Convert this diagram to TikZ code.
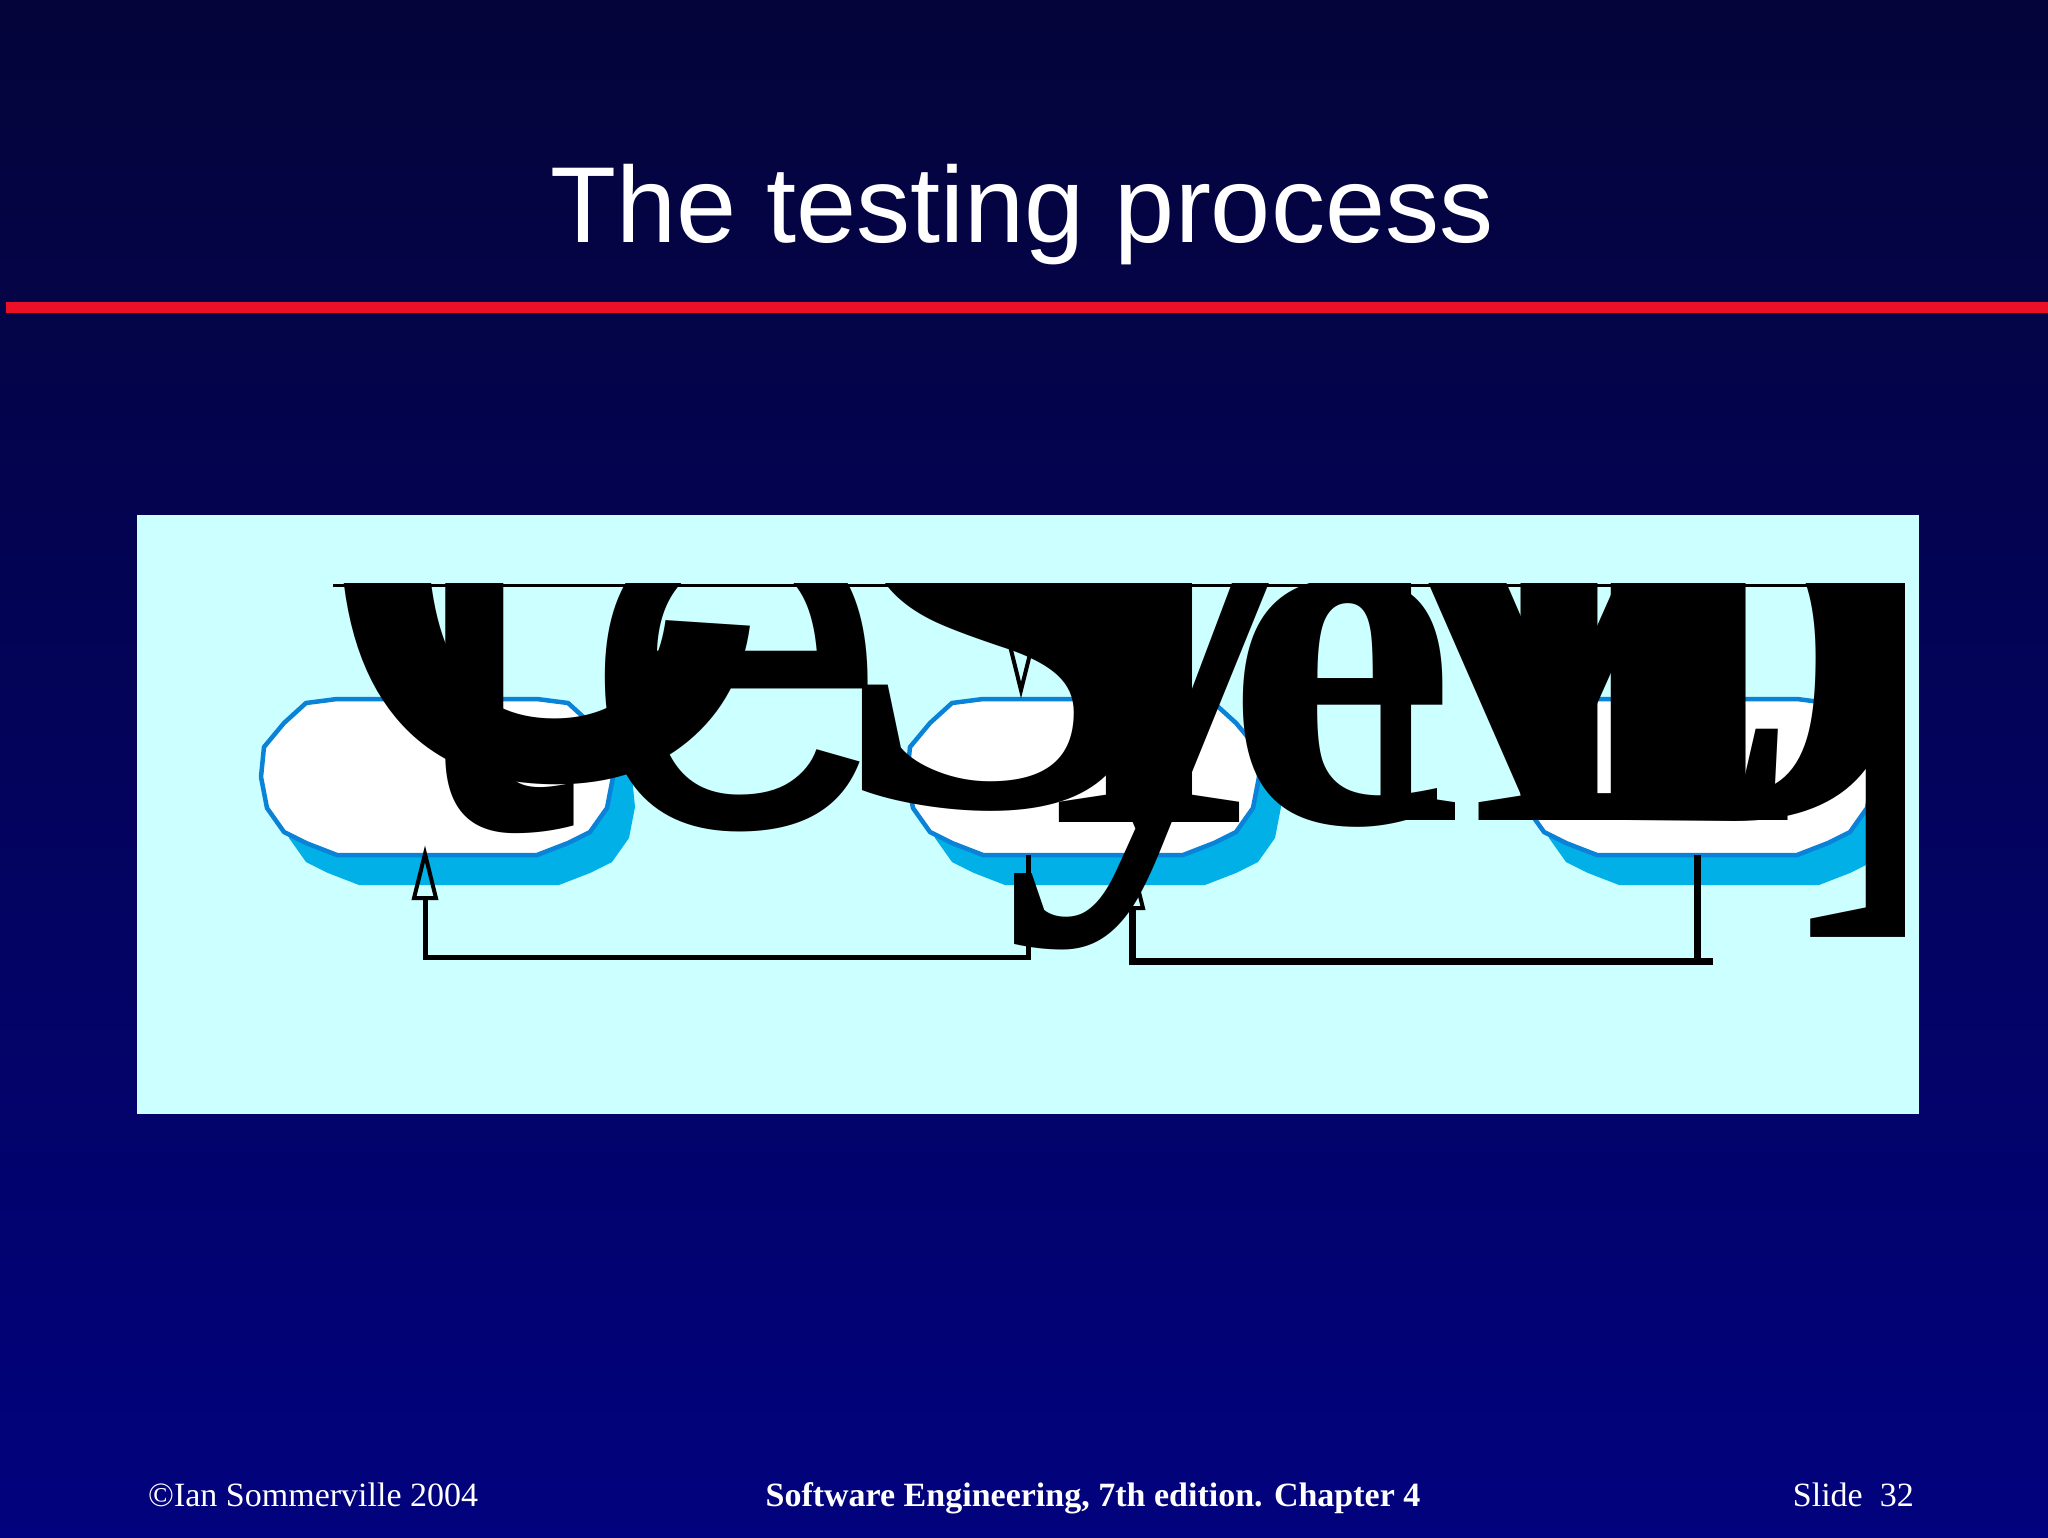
\documentclass[tikz,border=0pt]{standalone}
\usepackage{fontspec}
\setmainfont{Liberation Serif}
\newfontfamily\arialf{Liberation Sans}
\usetikzlibrary{arrows.meta}
\definecolor{bgtop}{RGB}{4,4,58}
\definecolor{bgbot}{RGB}{2,2,126}
\definecolor{slidered}{RGB}{235,16,40}
\definecolor{panelc}{RGB}{204,255,255}
\definecolor{stageborder}{RGB}{10,130,215}
\definecolor{stageshadow}{RGB}{0,176,230}
\tikzset{
  stagepic/.pic={
    \fill[stageshadow, shift={(22,30)}] (-100,-78) -- (100,-78) -- (131,-74) -- (153,-54) -- (173,-30) -- (176,0) -- (170,31) -- (153,55) -- (131,66) -- (100,78) -- (-100,78) -- (-131,66) -- (-153,55) -- (-170,31) -- (-176,0) -- (-173,-30) -- (-153,-54) -- (-131,-74) -- cycle;
    \filldraw[fill=white, draw=stageborder, line width=4.5pt, line join=round] (-100,-78) -- (100,-78) -- (131,-74) -- (153,-54) -- (173,-30) -- (176,0) -- (170,31) -- (153,55) -- (131,66) -- (100,78) -- (-100,78) -- (-131,66) -- (-153,55) -- (-170,31) -- (-176,0) -- (-173,-30) -- (-153,-54) -- (-131,-74) -- cycle;
  },
  stagebox/.style={draw=none, minimum width=352pt, minimum height=156pt, inner sep=0pt},
  conn/.style={draw=black, line width=5pt},
  openhead/.style={-{Triangle[open, length=55pt, width=26pt, line width=4pt]}},
  glyph/.style={anchor=base west, inner sep=0pt, outer sep=0pt, text=black},
  foot/.style={text=white, inner sep=0pt, font=\fontsize{34}{34}\selectfont},
}
\begin{document}
\begin{tikzpicture}[x=1pt, y=-1pt]
\useasboundingbox (0,0) rectangle (2048,1537);
\shade[top color=bgtop, bottom color=bgbot] (0,0) rectangle (2048,1537);

% title and rule
\node[anchor=base, text=white, inner sep=0pt, font=\arialf\fontsize{108}{108}\selectfont] (title) at (1022,242) {The testing process};
\coordinate (rl) at (6,307.5);
\coordinate (rr) at (2048,307.5);
\draw[slidered, line width=11pt] (rl) -- (rr);

% panel
\node[fill=panelc, minimum width=1782pt, minimum height=599pt, inner sep=0pt, anchor=north west] (panel) at (137,515) {};

% stages
\node[stagebox] (comp) at (437,777) {};
\node[stagebox] (sys) at (1083,777) {};
\node[stagebox] (acc) at (1697,777) {};
\pic at (comp) {stagepic};
\pic at (sys) {stagepic};
\pic at (acc) {stagepic};

% connectors
\draw[conn, openhead, shorten >=-10pt] ([xshift=-55pt]sys.south) -- ++(0,102) -| ([xshift=-12pt]comp.south);
\coordinate (stub) at (1713,961);
\draw[conn, line width=7pt] (acc.south) -- (acc.south |- stub);
\draw[conn, line width=7pt, openhead] (stub) -| ([xshift=49pt]sys.south);
\coordinate (c3top) at (1021,585);
\draw[conn, openhead] (c3top) -- ([xshift=-62pt]sys.north);
\coordinate (tl) at (333,585);
\coordinate (tr) at (1904,585);
\draw[line width=3pt] (tl) -- (tr);

% oversized label glyphs
\begin{scope}
\clip (333,583) rectangle (1904,1000);
\node[glyph, font=\arialf\fontsize{950}{950}\selectfont] (g1) at (300,775) {c};
\node[glyph, font=\arialf\fontsize{660}{660}\selectfont] (g2) at (395,828) {t};
\node[glyph, font=\arialf\fontsize{560}{560}\selectfont] (g3) at (581,826) {e};
\node[glyph, font=\bfseries\fontsize{600}{600}\selectfont] (g4) at (830,805) {S};
\node[glyph, font=\bfseries\fontsize{560}{560}\selectfont] (g6) at (1040,822) {I};
\node[glyph, font=\bfseries\fontsize{600}{600}\selectfont] (g5) at (1000,820) {y};
\node[glyph, font=\bfseries\fontsize{520}{520}\selectfont] (g7) at (1225,822) {e};
\node[glyph, font=\bfseries\fontsize{500}{500}\selectfont] (g8) at (1330,820) {M};
\node[glyph, font=\bfseries\fontsize{500}{500}\selectfont] (g9) at (1470,820) {E};
\node[glyph, font=\bfseries\fontsize{500}{500}\selectfont] (g10) at (1560,820) {D};
\node[glyph, font=\bfseries\fontsize{560}{560}\selectfont] (g11) at (1790,862) {]};
\end{scope}

% footer
\node[foot, anchor=base west] (copy) at (148,1506) {\textcopyright Ian Sommerville 2004};
\node[foot, anchor=base, font=\bfseries\fontsize{34}{34}\selectfont] (book) at (1093,1506) {Software Engineering, 7th edition. Chapter 4};
\node[foot, anchor=base east] (slide) at (1914,1506) {Slide\ \ 32};
\end{tikzpicture}
\end{document}
